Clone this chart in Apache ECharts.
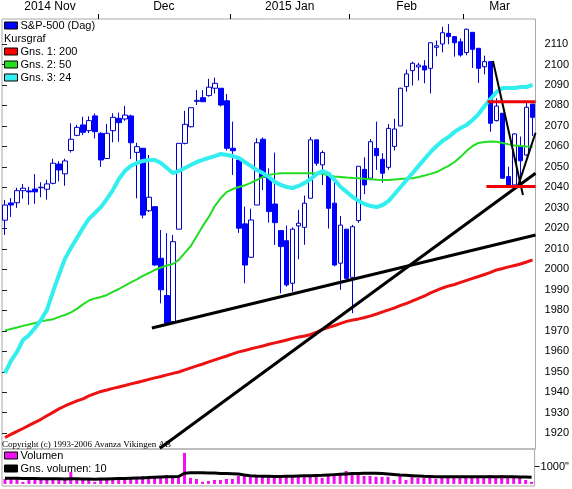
<!DOCTYPE html>
<html>
<head>
<meta charset="utf-8">
<title>S&amp;P-500 (Dag)</title>
<script src="https://cdn.jsdelivr.net/npm/echarts@6.0.0/dist/echarts.min.js"></script>
<style>
  html, body { margin: 0; padding: 0; background: #fff; }
  #kursgraf { width: 572px; height: 489px; }
</style>
</head>
<body>
<div id="kursgraf"></div>
<script>
// handelsdagar 2014-11-06 .. 2015-03-17
const days = [
  '2014-11-06','2014-11-07','2014-11-10','2014-11-11','2014-11-12','2014-11-13','2014-11-14','2014-11-17',
  '2014-11-18','2014-11-19','2014-11-20','2014-11-21','2014-11-24','2014-11-25','2014-11-26','2014-11-28',
  '2014-12-01','2014-12-02','2014-12-03','2014-12-04','2014-12-05','2014-12-08','2014-12-09','2014-12-10',
  '2014-12-11','2014-12-12','2014-12-15','2014-12-16','2014-12-17','2014-12-18','2014-12-19','2014-12-22',
  '2014-12-23','2014-12-24','2014-12-26','2014-12-29','2014-12-30','2014-12-31',
  '2015-01-02','2015-01-05','2015-01-06','2015-01-07','2015-01-08','2015-01-09','2015-01-12','2015-01-13',
  '2015-01-14','2015-01-15','2015-01-16','2015-01-20','2015-01-21','2015-01-22','2015-01-23','2015-01-26',
  '2015-01-27','2015-01-28','2015-01-29','2015-01-30',
  '2015-02-02','2015-02-03','2015-02-04','2015-02-05','2015-02-06','2015-02-09','2015-02-10','2015-02-11',
  '2015-02-12','2015-02-13','2015-02-17','2015-02-18','2015-02-19','2015-02-20','2015-02-23','2015-02-24',
  '2015-02-25','2015-02-26','2015-02-27',
  '2015-03-02','2015-03-03','2015-03-04','2015-03-05','2015-03-06','2015-03-09','2015-03-10','2015-03-11',
  '2015-03-12','2015-03-13','2015-03-16','2015-03-17'
];

const opens = [
  2024.0, 2032.4, 2032.5, 2038.4, 2038.3, 2039.2, 2039.8, 2039.1, 2042.0, 2051.4, 2046.6, 2058.0, 2065.4, 2070.5, 2067.7, 2074.9,
  2066.4, 2054.1, 2067.7, 2073.7, 2073.4, 2074.9, 2057.1, 2059.1, 2028.6, 2030.6, 2005.4, 1987.2, 1974.5, 2019.6, 2061.5, 2069.6,
  2082.0, 2083.8, 2084.8, 2088.4, 2088.4, 2082.3,
  2059.1, 2053.4, 2022.2, 2005.9, 2031.4, 2063.5, 2044.9, 2031.9, 2018.9, 2014.0, 1993.2, 2021.2, 2020.5, 2034.7, 2063.2, 2051.0,
  2046.9, 2032.3, 2003.0, 2019.6,
  1996.1, 2023.8, 2048.8, 2044.5, 2059.0, 2053.7, 2049.8, 2060.0, 2070.0, 2089.2, 2097.0, 2098.8, 2099.3, 2098.1, 2108.4, 2110.0,
  2115.2, 2113.6, 2111.1,
  2105.8, 2115.7, 2107.9, 2098.9, 2101.4, 2072.6, 2076.2, 2045.3, 2041.2, 2060.2, 2055.8, 2080.7
];
const closes = [
  2031.4, 2031.4, 2038.4, 2039.6, 2037.8, 2037.8, 2040.1, 2041.7, 2051.8, 2048.5, 2052.9, 2063.5, 2069.3, 2066.9, 2072.6, 2067.2,
  2053.4, 2066.4, 2074.2, 2071.6, 2075.3, 2061.8, 2059.9, 2026.5, 2035.2, 2002.1, 1990.0, 1973.7, 2013.5, 2061.5, 2070.8, 2078.9,
  2082.5, 2081.8, 2088.9, 2090.8, 2080.2, 2059.1,
  2057.9, 2020.1, 2002.1, 2024.1, 2061.8, 2044.9, 2028.2, 2022.8, 2011.1, 1992.4, 2019.6, 2022.5, 2032.3, 2063.2, 2051.8, 2057.0,
  2029.8, 2002.1, 2021.6, 1995.6,
  2020.8, 2050.3, 2041.2, 2062.3, 2055.5, 2046.9, 2068.8, 2068.5, 2088.4, 2095.4, 2100.6, 2099.7, 2097.3, 2110.6, 2109.1, 2115.5,
  2113.6, 2110.6, 2104.6,
  2117.2, 2107.4, 2098.1, 2101.4, 2071.3, 2079.7, 2044.5, 2041.2, 2066.1, 2053.0, 2079.1, 2074.2
];
const lows = [
  2016.8, 2025.6, 2030.0, 2034.5, 2031.5, 2032.0, 2035.2, 2034.0, 2041.5, 2043.0, 2040.8, 2057.0, 2065.0, 2065.5, 2066.5, 2063.9,
  2050.0, 2053.8, 2062.0, 2062.3, 2072.5, 2053.9, 2034.7, 2024.9, 2028.0, 2001.8, 1983.4, 1972.9, 1973.5, 2019.6, 2061.0, 2069.3,
  2080.2, 2081.8, 2084.3, 2085.8, 2079.5, 2058.0,
  2046.1, 2017.8, 1993.2, 2005.6, 2031.4, 2038.7, 2022.8, 2011.9, 1988.3, 1991.5, 1989.1, 2004.9, 2012.0, 2034.7, 2050.5, 2041.2,
  2019.9, 2001.5, 1990.0, 1995.0,
  1978.6, 2022.7, 2036.7, 2043.5, 2048.5, 2042.3, 2048.6, 2058.0, 2070.0, 2086.7, 2089.8, 2092.2, 2090.8, 2085.9, 2104.0, 2105.9,
  2109.9, 2103.8, 2103.8,
  2104.5, 2098.3, 2091.0, 2095.2, 2067.2, 2072.2, 2044.2, 2039.7, 2041.1, 2041.2, 2055.4, 2065.1
];
const highs = [
  2033.9, 2034.8, 2039.8, 2041.7, 2040.3, 2046.5, 2042.5, 2043.7, 2054.0, 2052.8, 2054.0, 2071.3, 2070.5, 2074.5, 2074.7, 2076.1,
  2067.0, 2071.0, 2076.2, 2076.5, 2079.8, 2075.5, 2061.8, 2059.1, 2055.8, 2030.6, 2019.2, 2017.7, 2016.8, 2061.5, 2077.4, 2078.9,
  2087.5, 2087.5, 2093.0, 2093.6, 2088.5, 2085.6,
  2072.1, 2054.4, 2030.6, 2029.6, 2064.0, 2064.4, 2049.3, 2057.0, 2018.9, 2021.4, 2020.5, 2029.0, 2036.0, 2064.6, 2063.2, 2058.0,
  2046.9, 2042.5, 2026.0, 2019.6,
  2021.7, 2050.3, 2054.7, 2063.6, 2072.1, 2056.7, 2070.9, 2073.5, 2088.6, 2097.5, 2101.3, 2100.8, 2102.1, 2110.6, 2111.7, 2118.4,
  2119.7, 2113.9, 2112.7,
  2117.5, 2115.8, 2107.9, 2104.3, 2101.4, 2083.5, 2076.2, 2050.1, 2066.4, 2064.8, 2081.4, 2080.7
];

// glidande medel
const ma200 = [
  1917.9, 1919.4, 1920.9, 1922.3, 1923.8, 1925.3, 1926.8, 1928.5, 1930.2, 1931.9, 1933.3, 1934.6, 1935.8, 1936.8, 1938.2, 1939.3,
  1940.4, 1941.1, 1941.9, 1942.6, 1943.3, 1944.1, 1944.8, 1945.5, 1946.3, 1947.0, 1947.7, 1948.5, 1949.2, 1949.9, 1950.9, 1951.9,
  1952.9, 1953.8, 1954.8, 1955.8, 1956.8, 1957.7,
  1958.7, 1959.7, 1960.4, 1961.2, 1961.9, 1962.6, 1963.4, 1964.1, 1964.8, 1965.5, 1966.3, 1967.0, 1967.5, 1968.2, 1969.4, 1970.7,
  1971.7, 1972.6, 1973.6, 1974.6,
  1975.3, 1975.8, 1976.5, 1977.3, 1978.2, 1979.2, 1980.2, 1981.2, 1982.4, 1983.4, 1984.6, 1985.8, 1987.0, 1988.5, 1989.7, 1990.9,
  1991.9, 1992.6, 1993.6,
  1994.6, 1995.6, 1996.5, 1997.5, 1998.5, 1999.7, 2000.4, 2001.2, 2001.9, 2002.6, 2003.6, 2004.6
];
const ma50 = [
  1970.2, 1970.9, 1971.6, 1972.4, 1973.1, 1973.8, 1974.6, 1975.1, 1975.6, 1976.8, 1977.7, 1979.0, 1980.7, 1982.9, 1984.8, 1985.8,
  1986.5, 1987.5, 1989.0, 1990.4, 1992.1, 1993.6, 1995.1, 1996.8, 1998.2, 1999.7, 2000.9, 2001.9, 2002.6, 2004.6, 2008.0, 2011.4,
  2016.3, 2021.2, 2025.6, 2030.9, 2034.8, 2037.8,
  2039.2, 2040.2, 2041.0, 2042.2, 2043.6, 2045.1, 2046.1, 2046.6, 2046.9, 2046.9, 2046.9, 2046.9, 2046.9, 2046.9, 2046.9, 2046.6,
  2045.8, 2045.3, 2045.1, 2044.8,
  2044.6, 2044.5, 2044.2, 2044.0, 2043.7, 2043.6, 2043.6, 2043.9, 2044.1, 2044.3, 2044.5, 2045.1, 2045.8, 2046.6, 2047.5, 2049.0,
  2050.5, 2052.4, 2054.9,
  2057.8, 2060.2, 2061.7, 2062.2, 2062.4, 2062.3, 2061.7, 2061.0, 2060.5, 2060.2, 2060.0, 2059.9
];
const ma24 = [
  1949.4, 1955.3, 1959.7, 1965.5, 1967.9, 1971.4, 1975.3, 1980.2, 1989.0, 1997.3, 2005.1, 2010.4, 2015.3, 2020.2, 2024.6, 2027.5,
  2030.4, 2034.4, 2038.7, 2044.1, 2048.0, 2050.5, 2051.9, 2052.9, 2053.4, 2053.4, 2051.9, 2049.5, 2047.0, 2048.0, 2049.5, 2050.9,
  2052.4, 2053.4, 2054.4, 2055.3, 2056.3, 2055.8,
  2055.3, 2054.4, 2052.4, 2050.5, 2048.5, 2047.0, 2045.1, 2042.7, 2041.2, 2040.2, 2039.7, 2040.7, 2042.2, 2044.1, 2046.6, 2048.0,
  2046.6, 2043.6, 2040.2, 2037.8,
  2035.3, 2033.4, 2031.9, 2030.9, 2030.4, 2031.4, 2033.4, 2036.8, 2040.2, 2043.6, 2047.0, 2050.5, 2053.9, 2057.3, 2060.2, 2062.7,
  2064.6, 2067.1, 2069.0,
  2070.5, 2072.9, 2075.8, 2079.7, 2083.2, 2086.6, 2088.5, 2088.5, 2088.5, 2089.0, 2089.0, 2090.0
];

// volym och 10 dagars medel
const volume = [
  290, 350, 290, 120, 230, 230, 230, 350, 290, 290, 230, 700, 290, 290, 230, 120,
  350, 350, 290, 350, 290, 350, 410, 460, 410, 460, 460, 520, 460, 460, 1800, 350,
  290, 120, 170, 230, 230, 290,
  290, 460, 520, 460, 460, 410, 410, 520, 520, 520, 520, 410, 460, 520, 410, 350,
  460, 520, 520, 750,
  520, 520, 460, 460, 410, 410, 410, 230, 460, 230, 410, 350, 350, 460, 290, 410,
  410, 410, 460,
  460, 460, 460, 410, 520, 410, 520, 460, 460, 410, 230, 120
];
const volumeAvg = [
  330, 330, 325, 320, 315, 310, 305, 300, 300, 295, 290, 300, 295, 290, 280, 270,
  280, 290, 300, 310, 320, 330, 340, 350, 370, 390, 400, 410, 420, 430, 620, 650,
  655, 650, 640, 630, 610, 600,
  590, 580, 520, 480, 460, 450, 440, 430, 430, 440, 450, 460, 470, 480, 490, 500,
  520, 540, 560, 580,
  600, 610, 620, 620, 620, 610, 580, 550, 520, 500, 480, 460, 440, 430, 420, 420,
  420, 420, 420,
  420, 420, 420, 420, 420, 420, 420, 420, 410, 400, 395, 390
];

// inritade trendlinjer, x i dagar från vänsterkanten
const trendLow = [[25.0, 1971.4], [89.0, 2016.8]];
const trendLong = [[26.33, 1912.7], [89.0, 2046.9]];
const trendDown = [[81.9, 2101.7], [86.9, 2036.3]];
const trendUp = [[86.05, 2040.4], [89.0, 2066.7]];
const levelHigh = [[81.0, 2081.8], [89.0, 2081.8]];
const levelLow = [[80.8, 2040.4], [89.0, 2040.4]];

// axlar
const monthNames = ['2014 Nov', 'Dec', '2015 Jan', 'Feb', 'Mar'];
const monthMid = [8, 27, 48, 67.5, 83];
const monthStarts = [16, 38, 58, 77];
const priceTicks = [1920, 1930, 1940, 1950, 1960, 1970, 1980, 1990, 2000, 2010,
  2020, 2030, 2040, 2050, 2060, 2070, 2080, 2090, 2100, 2110];
const volumeTicks = [1000];

const font = 'Liberation Sans';
const chart = echarts.init(document.getElementById('kursgraf'));

function legendBox(top, items) {
  return {
    left: 4,
    top: top,
    orient: 'vertical',
    padding: 0,
    itemGap: 0,
    itemWidth: 13,
    itemHeight: 7,
    icon: 'rect',
    selectedMode: false,
    itemStyle: { borderColor: '#000', borderWidth: 1 },
    textStyle: { fontFamily: font, fontSize: 11, lineHeight: 13, color: '#000', padding: [0, 0, 0, -2] },
    data: items
  };
}

function trendSeries(data, color, width) {
  return {
    type: 'line',
    xAxisIndex: 1,
    yAxisIndex: 0,
    data: data,
    symbol: 'none',
    silent: true,
    z: 5,
    lineStyle: { color: color, width: width }
  };
}

chart.setOption({
  animation: false,
  textStyle: { fontFamily: font },
  grid: [
    { left: 2, top: 19, width: 534, height: 430, show: true, borderColor: '#a8a8a8', borderWidth: 1 },
    { left: 2, top: 449, width: 534, height: 37, show: true, borderColor: '#a8a8a8', borderWidth: 1 }
  ],
  legend: [
    legendBox(19, [{ name: 'S&P-500 (Dag)', itemStyle: { color: '#0000ff' } }]),
    legendBox(45, [
      { name: 'Gns. 1: 200', itemStyle: { color: '#ff0000' } },
      { name: 'Gns. 2: 50', itemStyle: { color: '#22dd22' } },
      { name: 'Gns. 3: 24', itemStyle: { color: '#33eeee' } }
    ]),
    legendBox(449, [
      { name: 'Volumen', itemStyle: { color: '#ee11ee' } },
      { name: 'Gns. volumen: 10', itemStyle: { color: '#000' } }
    ])
  ],
  graphic: [
    { type: 'text', left: 4, top: 33, style: { text: 'Kursgraf', font: '11px "Liberation Sans"', fill: '#000' } },
    { type: 'text', left: 2, top: 440, style: { text: 'Copyright (c) 1993-2006 Avanza Vikingen AB', font: '9px "Liberation Serif"', fill: '#000' } }
  ],
  xAxis: [
    { type: 'category', gridIndex: 0, data: days, show: false },
    {
      type: 'value', gridIndex: 0, position: 'top', min: 0, max: 89,
      splitLine: { show: false },
      axisLine: { show: false },
      axisTick: { show: true, length: 5, customValues: monthStarts, lineStyle: { color: '#000' } },
      axisLabel: {
        customValues: monthMid, fontSize: 12, color: '#000', margin: 6,
        formatter: v => monthNames[monthMid.indexOf(v)]
      }
    },
    { type: 'category', gridIndex: 1, data: days, show: false }
  ],
  yAxis: [
    {
      type: 'value', gridIndex: 0, position: 'right', min: 1912.3, max: 2122.2,
      splitLine: { show: false },
      axisLine: { show: false },
      axisTick: { show: true, length: 5, customValues: priceTicks, lineStyle: { color: '#222' } },
      axisLabel: { customValues: priceTicks, fontSize: 11, color: '#000', margin: 9, formatter: v => String(v) }
    },
    {
      type: 'value', gridIndex: 1, position: 'right', min: -120, max: 2027,
      splitLine: { show: false },
      axisLine: { show: false },
      axisTick: { show: true, length: 5, customValues: volumeTicks, lineStyle: { color: '#222' } },
      axisLabel: { customValues: volumeTicks, fontSize: 11, color: '#000', margin: 6, formatter: v => v + '"' }
    }
  ],
  series: [
    {
      name: 'S&P-500 (Dag)',
      type: 'candlestick',
      xAxisIndex: 0,
      yAxisIndex: 0,
      barWidth: 5,
      data: days.map((d, i) => [opens[i], closes[i], lows[i], highs[i]]),
      itemStyle: { color: '#fff', color0: '#0000ff', borderColor: '#0000c8', borderColor0: '#0000ff', borderWidth: 1 }
    },
    { name: 'Gns. 1: 200', type: 'line', data: ma200, symbol: 'none', z: 3, lineStyle: { color: '#ee1111', width: 3 }, itemStyle: { color: '#ff0000' } },
    { name: 'Gns. 2: 50', type: 'line', data: ma50, symbol: 'none', z: 3, lineStyle: { color: '#22dd22', width: 2 }, itemStyle: { color: '#22dd22' } },
    { name: 'Gns. 3: 24', type: 'line', data: ma24, symbol: 'none', z: 3, lineStyle: { color: '#33eeee', width: 4 }, itemStyle: { color: '#33eeee' } },
    trendSeries(trendLow, '#000', 3),
    trendSeries(trendLong, '#000', 3),
    trendSeries(trendDown, '#000', 2),
    trendSeries(trendUp, '#000', 2),
    trendSeries(levelHigh, '#ee0000', 3),
    trendSeries(levelLow, '#ee0000', 3),
    {
      name: 'Volumen',
      type: 'bar',
      xAxisIndex: 2,
      yAxisIndex: 1,
      barWidth: 3,
      data: volume,
      itemStyle: { color: '#ee11ee' }
    },
    {
      name: 'Gns. volumen: 10',
      type: 'line',
      xAxisIndex: 2,
      yAxisIndex: 1,
      data: volumeAvg,
      symbol: 'none',
      z: 4,
      lineStyle: { color: '#000', width: 3 },
      itemStyle: { color: '#000' }
    }
  ]
});
</script>
</body>
</html>
